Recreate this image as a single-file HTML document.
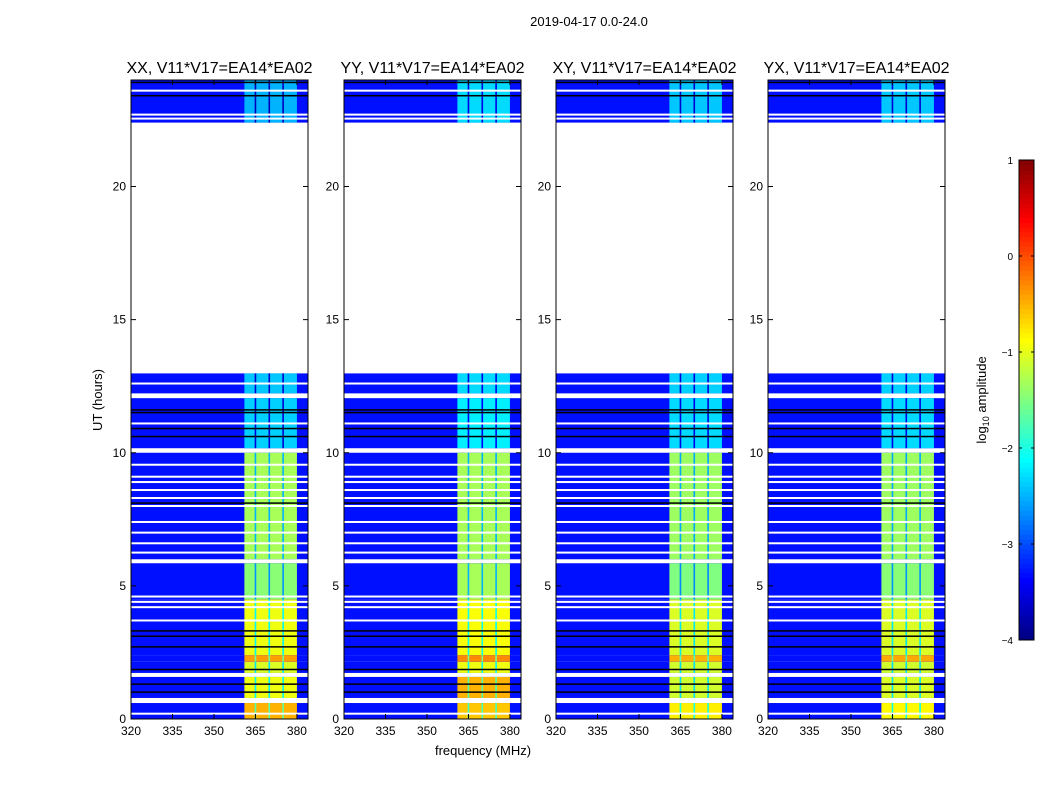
<!DOCTYPE html>
<html><head><meta charset="utf-8"><style>
body{margin:0;background:#fff;font-family:"Liberation Sans","DejaVu Sans",sans-serif}
svg{display:block}
</style></head><body>
<svg id="chart" width="1050" height="800" xmlns="http://www.w3.org/2000/svg">
<text x="589" y="26" font-size="13" text-anchor="middle">2019-04-17 0.0-24.0</text>
<text x="483" y="755" font-size="13" text-anchor="middle">frequency (MHz)</text>
<text transform="translate(102,400) rotate(-90)" font-size="13" text-anchor="middle">UT (hours)</text>
<g id="panels"></g>
<g id="cbar"></g>
</svg>
<script>
const panelTitles = ["XX, V11*V17=EA14*EA02","YY, V11*V17=EA14*EA02","XY, V11*V17=EA14*EA02","YX, V11*V17=EA14*EA02"];
const segStart = [0.0, 0.79, 1.73, 2.15, 2.4, 4.5, 6.0, 10.17, 12.23, 22.4];
const segEnd   = [0.6, 1.58, 2.15, 2.4, 4.5, 5.85, 10.0, 12.05, 12.98, 24.0];
const bandXX = [-0.5, -0.95, -1.05, -0.4, -0.95, -1.45, -1.3, -2.35, -2.4, -2.5];
const bandYY = [-0.6, -0.5, -0.95, -0.3, -0.9, -1.3, -1.3, -2.2, -2.3, -2.3];
const bandXY = [-0.8, -1.1, -1.1, -0.5, -1.05, -1.5, -1.35, -2.3, -2.35, -2.4];
const bandYX = [-0.85, -1.05, -1.1, -0.45, -1.05, -1.45, -1.35, -2.3, -2.35, -2.4];
const bands = [bandXX, bandYY, bandXY, bandYX];
const bgLevel = -3.3;
const bandLo = 361, bandHi = 380;
const bandGaps = [365, 370, 375];
const whiteLines = [0.2, 3.7, 4.2, 4.4, 4.6, 6.25, 6.6, 7.0, 7.4, 8.0, 8.3, 8.6, 8.9, 9.1, 9.55, 11.1, 12.6, 22.55, 22.7, 23.6];
const blackLines = [1.0, 1.3, 1.85, 2.7, 3.1, 3.3, 8.1, 10.6, 10.9, 11.5, 11.6, 23.4, 23.9];
const yTicks = [0, 5, 10, 15, 20];
const xTicks = [320, 335, 350, 365, 380];
const cbTicks = [1, 0, -1, -2, -3, -4];

const panelX = [131, 344, 556, 768], PW = 177, PT = 80, PB = 719;
const fMin = 320, fMax = 384, tMax = 24;
const NS = "http://www.w3.org/2000/svg";
function jet(v){
  let t = Math.max(0, Math.min(1, (v + 4) / 5));
  const f = x => Math.max(0, Math.min(1, x));
  const r = f(Math.min(4*t-1.5, -4*t+4.5)), g = f(Math.min(4*t-0.5, -4*t+3.5)), b = f(Math.min(4*t+0.5, -4*t+2.5));
  return `rgb(${Math.round(r*255)},${Math.round(g*255)},${Math.round(b*255)})`;
}
function mk(tag, attrs, parent){ const e = document.createElementNS(NS, tag); for (const k in attrs) e.setAttribute(k, attrs[k]); parent.appendChild(e); return e; }
const yS = h => PB - h / tMax * (PB - PT);
const root = document.getElementById('panels');
panelX.forEach((x0, p) => {
  const xS = f => x0 + (f - fMin) / (fMax - fMin) * PW;
  const g = mk('g', {}, root);
  
  
  segStart.forEach((s, i) => {
    const y1 = yS(segEnd[i]), y2 = yS(s);
    const bg = mk('rect', {x: x0, y: y1, width: PW, height: y2 - y1, fill: jet(bgLevel)}, g);
    
    
    const bd = mk('rect', {x: xS(bandLo), y: y1, width: xS(bandHi) - xS(bandLo), height: y2 - y1, fill: jet(bands[p][i])}, g);
    
    
    bandGaps.forEach(f => {
      const gl = mk('rect', {x: xS(f) - 0.8, y: y1, width: 1.6, height: y2 - y1, fill: jet(bands[p][i] - 1.2)}, g);
      
      
    });
  });
  whiteLines.forEach(h => {
    const l = mk('rect', {x: x0, y: yS(h) - 1, width: PW, height: 2, fill: '#fff'}, g);
    
    
  });
  blackLines.forEach(h => {
    const l = mk('rect', {x: x0, y: yS(h) - 1, width: PW, height: 1.5, fill: '#000'}, g);
    
    
  });
  const fr = mk('rect', {x: x0, y: PT, width: PW, height: PB - PT, fill: 'none', stroke: '#000', 'stroke-width': 1}, g);
  
  
  const tt = mk('text', {x: x0 + PW/2, y: 73, 'font-size': 16, 'text-anchor': 'middle'}, g);
  tt.textContent = panelTitles[p];
  
  
  yTicks.forEach(v => {
    const y = yS(v);
    mk('line', {x1: x0, x2: x0 + 5, y1: y, y2: y, stroke: '#000'}, g);
    mk('line', {x1: x0 + PW - 5, x2: x0 + PW, y1: y, y2: y, stroke: '#000'}, g);
    const t = mk('text', {x: x0 - 5, y: y + 4, 'font-size': 12, 'text-anchor': 'end'}, g);
    t.textContent = v;
    
    
  });
  xTicks.forEach(v => {
    const x = xS(v);
    mk('line', {x1: x, x2: x, y1: PB, y2: PB - 5, stroke: '#000'}, g);
    mk('line', {x1: x, x2: x, y1: PT, y2: PT + 5, stroke: '#000'}, g);
    const t = mk('text', {x: x, y: PB + 16, 'font-size': 12, 'text-anchor': 'middle'}, g);
    t.textContent = v;
    
    
  });
});
const cb = document.getElementById('cbar');
const cbX = 1019, cbW = 15, cbT = 160, cbB = 640, cbMin = -4, cbMax = 1;
const cbY = v => cbB - (v - cbMin) / (cbMax - cbMin) * (cbB - cbT);
for (let i = 0; i < 100; i++) {
  const v1 = cbMin + i * 0.05;
  const r = mk('rect', {x: cbX, y: cbY(v1 + 0.05), width: cbW, height: cbY(v1) - cbY(v1 + 0.05) + 0.5, fill: jet(v1 + 0.025)}, cb);
  
  
}
const cbf = mk('rect', {x: cbX, y: cbT, width: cbW, height: cbB - cbT, fill: 'none', stroke: '#000'}, cb);


cbTicks.forEach(v => {
  const y = cbY(v);
  mk('line', {x1: cbX, x2: cbX + 3, y1: y, y2: y, stroke: '#000'}, cb);
  mk('line', {x1: cbX + cbW - 3, x2: cbX + cbW, y1: y, y2: y, stroke: '#000'}, cb);
  const t = mk('text', {x: 1013, y: y + 4, 'font-size': 10, 'text-anchor': 'end'}, cb);
  t.textContent = v < 0 ? '\u2212' + Math.abs(v) : v;
  
  
});
const cl = mk('text', {transform: 'translate(986,400) rotate(-90)', 'font-size': 13, 'text-anchor': 'middle'}, cb);
cl.innerHTML = 'log<tspan font-size="9" dy="3">10</tspan><tspan dy="-3"> amplitude</tspan>';


</script>
</body></html>
